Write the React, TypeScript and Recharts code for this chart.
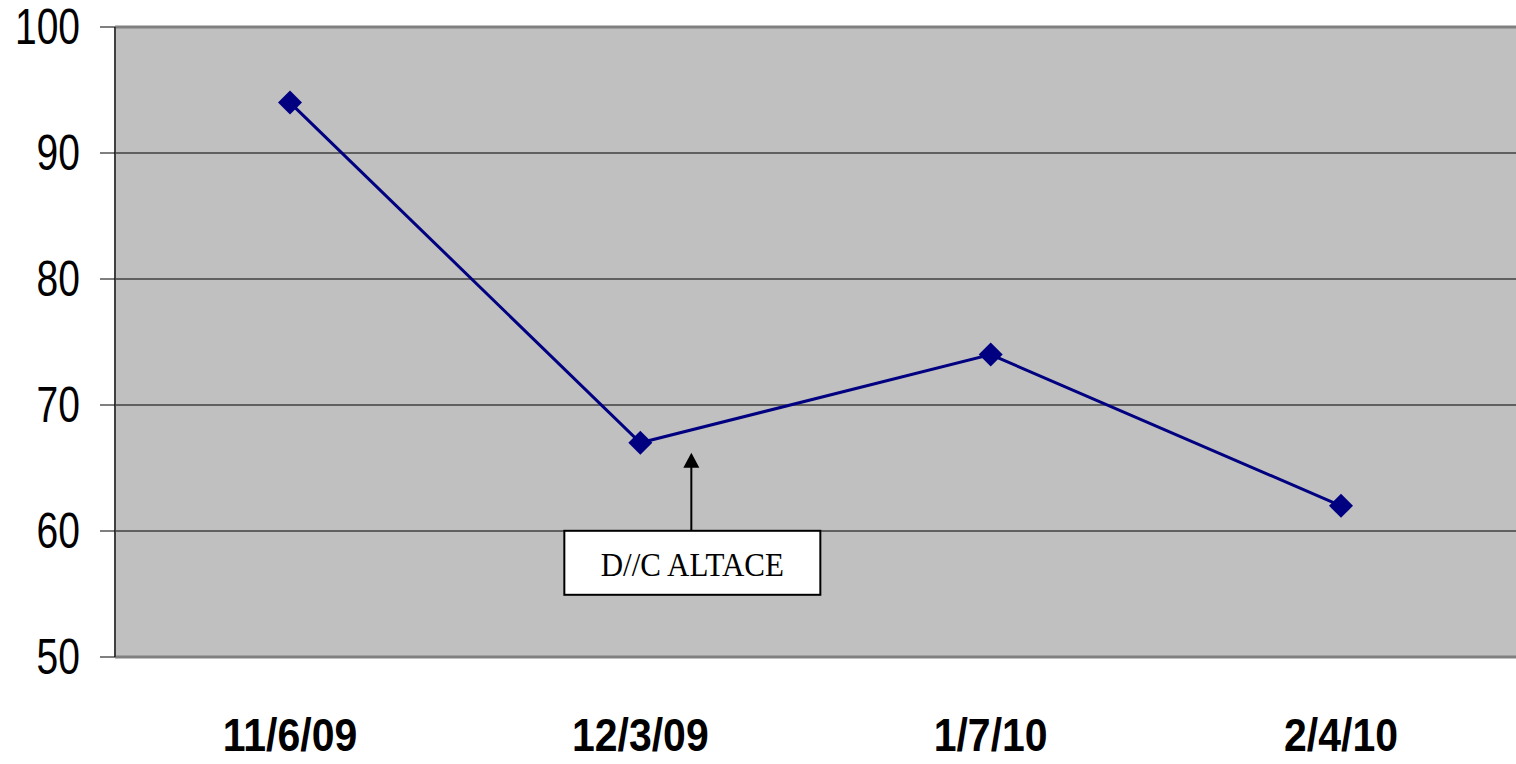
import React from 'react'
import { LineChart, Line, XAxis, YAxis, CartesianGrid, ReferenceLine, ReferenceDot } from 'recharts'

const dates = ['11/6/09', '12/3/09', '1/7/10', '2/4/10']
const values = [94, 67, 74, 62]
const yTicks = [50, 60, 70, 80, 90, 100]

const noteAt = { date: '12/3/09', value: 67, text: 'D//C ALTACE' }

const data = dates.map((d, i) => ({ date: d, value: values[i] }))

function Diamond(props: any) {
  const { cx, cy } = props
  if (cx == null || cy == null) return null
  return <polygon points={`${cx},${cy - 12} ${cx + 12},${cy} ${cx},${cy + 12} ${cx - 12},${cy}`} fill="#000080" />
}

function YTick(props: any) {
  const { x, y, payload } = props
  return (
    <text transform={`translate(${x},${y}) scale(1,1.27)`} textAnchor="end" dominantBaseline="central"
      fontFamily="'Liberation Sans', Arial, sans-serif" fontSize={39} fill="#000">
      {payload.value}
    </text>
  )
}

function XTick(props: any) {
  const { x, y, payload } = props
  return (
    <text transform={`translate(${x},${y}) scale(1,1.12)`} textAnchor="middle" dominantBaseline="central"
      fontFamily="'Liberation Sans', Arial, sans-serif" fontWeight="bold" fontSize={41} fill="#000">
      {payload.value}
    </text>
  )
}

// arrow + text box hung off the data point
function Note(props: any) {
  const { cx, cy } = props
  if (cx == null || cy == null) return null
  const ax = cx + 51
  return (
    <g>
      <line x1={ax} y1={cy + 88} x2={ax} y2={cy + 24} stroke="#000" strokeWidth={2} />
      <polygon points={`${ax},${cy + 10} ${ax + 8},${cy + 25} ${ax - 8},${cy + 25}`} fill="#000" />
      <rect x={cx - 76} y={cy + 88} width={256} height={64} fill="#fff" stroke="#000" strokeWidth={2} />
      <text transform={`translate(${cx + 52},${cy + 122}) scale(1,1.1)`} textAnchor="middle" dominantBaseline="central"
        fontFamily="'Liberation Serif', 'Times New Roman', serif" fontSize={31} fill="#000">
        {noteAt.text}
      </text>
    </g>
  )
}

export default function App() {
  return (
    <div>
      <style>{'body{margin:0}'}</style>
      <LineChart width={1516} height={764} data={data} margin={{ top: 27, right: 0, bottom: 0, left: 0 }}>
        <CartesianGrid vertical={false} horizontal={{ shapeRendering: 'crispEdges' } as any}
          stroke="#000" strokeWidth={1} fill="#c0c0c0" fillOpacity={1} />
        <XAxis dataKey="date" height={107} tickSize={0} tickMargin={78} tickLine={false}
          padding={{ left: 175, right: 175 }}
          axisLine={{ stroke: '#808080', strokeWidth: 3 }} tick={<XTick />} interval={0} />
        <YAxis domain={[50, 100]} ticks={yTicks} width={115} tickSize={15} tickMargin={20}
          tickLine={{ stroke: '#000' }} axisLine={{ stroke: '#404040', strokeWidth: 2 }} tick={<YTick />} />
        <ReferenceLine y={100} stroke="#808080" strokeWidth={3} />
        <ReferenceDot x={noteAt.date} y={noteAt.value} shape={<Note />} />
        <Line type="linear" dataKey="value" stroke="#000080" strokeWidth={3} dot={<Diamond />} activeDot={false}
          isAnimationActive={false} />
      </LineChart>
    </div>
  )
}
